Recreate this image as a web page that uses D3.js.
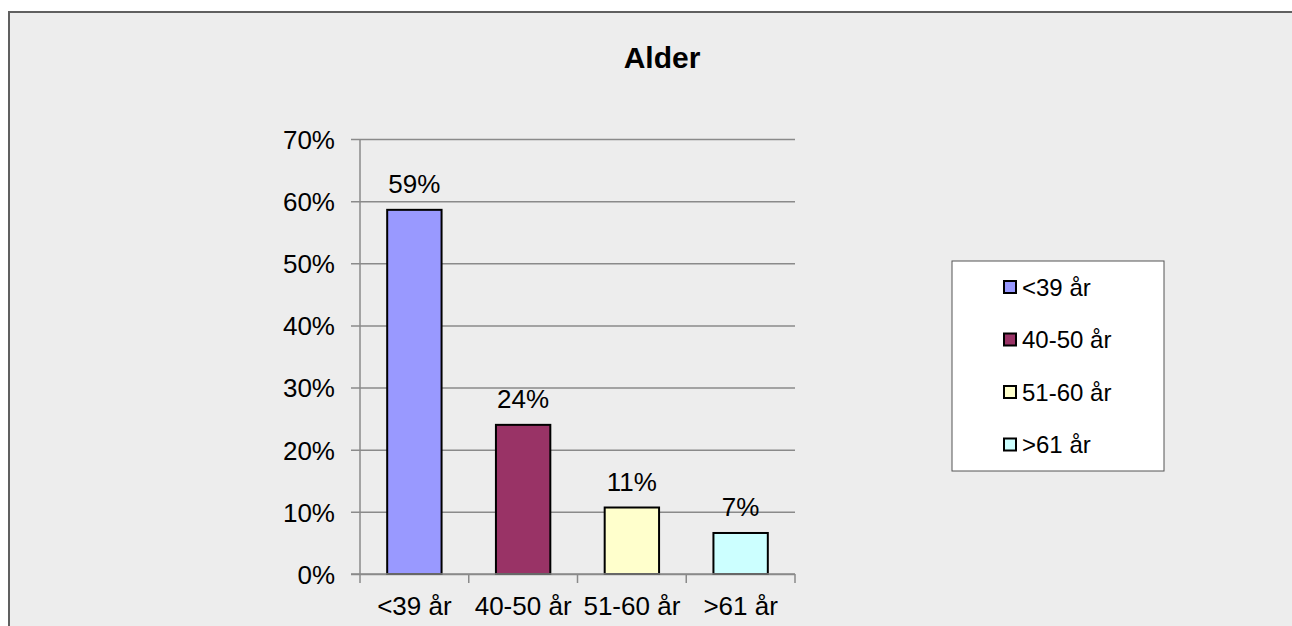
<!DOCTYPE html>
<html>
<head>
<meta charset="utf-8">
<script src="https://cdn.jsdelivr.net/npm/d3@7"></script>
<style>
  html, body { margin: 0; padding: 0; background: #ffffff; overflow: hidden; }
  svg { display: block; font-family: "Liberation Sans", Arial, sans-serif; }
</style>
</head>
<body>
<div id="chart"></div>
<script>
// chart data
const categories = ['<39 år', '40-50 år', '51-60 år', '>61 år'];
const values = [0.586, 0.240, 0.107, 0.066];
const valueLabels = ['59%', '24%', '11%', '7%'];
const barColors = ['#9999ff', '#993366', '#ffffcc', '#ccffff'];
const yTicks = [0, 0.1, 0.2, 0.3, 0.4, 0.5, 0.6, 0.7];
const title = 'Alder';

const W = 1292, H = 626;
const GRID = '#8a8a8a';

const svg = d3.select('#chart').append('svg')
  .attr('width', W)
  .attr('height', H);

// chart frame (runs off the right and bottom edges, so only top + left borders show)
svg.append('rect')
  .attr('x', 9).attr('y', 12)
  .attr('width', W - 9).attr('height', H - 12)
  .attr('fill', '#ededed');
svg.append('path')
  .attr('d', `M9,${H} V12 H${W}`)
  .attr('fill', 'none')
  .attr('stroke', '#606060')
  .attr('stroke-width', 2);

svg.append('text')
  .attr('x', 662).attr('y', 68)
  .attr('text-anchor', 'middle')
  .attr('font-size', 30)
  .attr('font-weight', 'bold')
  .text(title);

// scales
const x = d3.scaleBand()
  .domain(categories)
  .range([360, 795])
  .paddingInner(0)
  .paddingOuter(0);

const y = d3.scaleLinear()
  .domain([0, 0.7])
  .range([574, 139]);

// gridlines + y ticks
const yAxis = d3.axisLeft(y)
  .tickValues(yTicks)
  .tickFormat(d3.format('.0%'))
  .tickSize(-(795 - 351))
  .tickPadding(16);

const gy = svg.append('g')
  .attr('transform', 'translate(351,0)')
  .call(yAxis);
gy.select('.domain').remove();
gy.selectAll('.tick line')
  .attr('stroke', GRID)
  .attr('stroke-width', 1.5);
gy.selectAll('.tick text')
  .attr('font-size', 26)
  .attr('font-family', '"Liberation Sans", Arial, sans-serif')
  .attr('fill', '#000')
  .attr('dy', '0.36em');

// y axis line
svg.append('line')
  .attr('x1', 360).attr('x2', 360)
  .attr('y1', y(0.7)).attr('y2', y(0))
  .attr('stroke', GRID)
  .attr('stroke-width', 1.5);

// bars
svg.append('g')
  .selectAll('rect')
  .data(categories)
  .join('rect')
  .attr('x', (d) => x(d) + x.bandwidth() / 4)
  .attr('y', (d, i) => y(values[i]))
  .attr('width', x.bandwidth() / 2)
  .attr('height', (d, i) => y(0) - y(values[i]))
  .attr('fill', (d, i) => barColors[i])
  .attr('stroke', '#000')
  .attr('stroke-width', 2);

// value labels
svg.append('g')
  .selectAll('text')
  .data(categories)
  .join('text')
  .attr('x', (d) => x(d) + x.bandwidth() / 2)
  .attr('y', (d, i) => y(values[i]) - 17)
  .attr('text-anchor', 'middle')
  .attr('font-size', 26)
  .text((d, i) => valueLabels[i]);

// x axis
const xAxis = d3.axisBottom(x)
  .tickSize(0)
  .tickPadding(23);

const gx = svg.append('g')
  .attr('transform', `translate(0,${y(0)})`)
  .call(xAxis);
gx.select('.domain').remove();
gx.selectAll('.tick text')
  .attr('font-size', 26)
  .attr('font-family', '"Liberation Sans", Arial, sans-serif')
  .attr('fill', '#000');

svg.append('line')
  .attr('x1', 351).attr('x2', 795)
  .attr('y1', y(0)).attr('y2', y(0))
  .attr('stroke', GRID)
  .attr('stroke-width', 1.5);

// category boundary ticks
const boundaries = categories.map((d) => x(d)).concat([x.range()[1]]);
svg.append('g')
  .selectAll('line')
  .data(boundaries)
  .join('line')
  .attr('x1', (d) => d).attr('x2', (d) => d)
  .attr('y1', y(0)).attr('y2', y(0) + 9)
  .attr('stroke', GRID)
  .attr('stroke-width', 1.5);

// legend
const legend = svg.append('g');
legend.append('rect')
  .attr('x', 952).attr('y', 261)
  .attr('width', 212).attr('height', 210)
  .attr('fill', '#ffffff')
  .attr('stroke', '#555')
  .attr('stroke-width', 1);

const rows = legend.selectAll('g.row')
  .data(categories)
  .join('g')
  .attr('class', 'row')
  .attr('transform', (d, i) => `translate(1004,${287 + i * 52.5})`);

rows.append('rect')
  .attr('x', 0).attr('y', -6)
  .attr('width', 12).attr('height', 12)
  .attr('fill', (d, i) => barColors[i])
  .attr('stroke', '#000')
  .attr('stroke-width', 2);

rows.append('text')
  .attr('x', 18)
  .attr('y', 0)
  .attr('dy', '0.36em')
  .attr('font-size', 24)
  .text((d) => d);
</script>
</body>
</html>
